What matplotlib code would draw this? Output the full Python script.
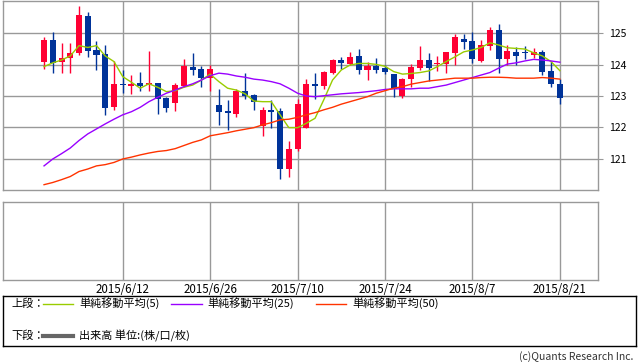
import matplotlib
matplotlib.use("Agg")
import matplotlib.pyplot as plt
import numpy as np
import pandas as pd

plt.rcParams['font.family'] = ['Noto Sans CJK JP', 'DejaVu Sans']

# daily bars, 2015/6/1 .. 2015/8/21
dates = pd.bdate_range('2015-06-01', '2015-08-21')
opens = [124.09, 124.78, 124.10, 124.23, 124.36, 125.57, 124.46, 124.33, 122.66, 123.39,
         123.32, 123.41, 123.34, 123.41, 122.95, 122.79, 123.33, 123.92, 123.86, 123.58,
         122.71, 122.52, 122.44, 123.16, 123.03, 122.03, 122.56, 122.52, 120.68, 121.30,
         121.99, 123.40, 123.33, 123.74, 124.14, 124.02, 124.27, 123.83, 123.96, 123.89,
         123.69, 123.01, 123.54, 123.90, 124.14, 124.02, 124.02, 124.37, 124.83, 124.75,
         124.11, 124.60, 125.10, 124.17, 124.39, 124.40, 124.32, 124.39, 123.79, 123.40]
highs = [124.90, 125.03, 124.69, 124.69, 125.86, 125.67, 124.75, 124.62, 124.11, 123.83,
         123.67, 123.77, 124.43, 123.43, 122.97, 123.41, 124.17, 124.37, 123.96, 123.98,
         123.21, 122.87, 123.21, 123.74, 123.05, 122.64, 122.87, 122.61, 121.58, 122.90,
         123.54, 123.74, 123.80, 124.17, 124.25, 124.41, 124.49, 124.09, 124.20, 123.98,
         123.70, 123.56, 124.01, 124.59, 124.38, 124.29, 124.39, 124.99, 124.99, 125.06,
         124.78, 125.20, 125.29, 124.62, 124.57, 124.60, 124.53, 124.46, 124.11, 123.54]
lows = [123.86, 123.72, 123.74, 123.74, 124.31, 124.25, 123.83, 122.40, 122.57, 123.09,
        123.06, 123.17, 123.17, 122.43, 122.50, 122.52, 123.30, 123.67, 123.30, 123.17,
        122.09, 121.90, 122.32, 122.90, 122.56, 121.71, 121.97, 120.36, 120.41, 121.23,
        121.97, 122.90, 123.21, 123.70, 123.86, 124.00, 123.70, 123.51, 123.73, 123.70,
        122.96, 122.95, 123.28, 123.83, 123.49, 123.80, 123.74, 123.98, 124.49, 124.06,
        124.09, 124.47, 123.74, 124.00, 124.00, 124.17, 124.20, 123.67, 123.28, 122.76]
closes = [124.78, 124.07, 124.23, 124.36, 125.60, 124.44, 124.30, 122.63, 123.38, 123.36,
          123.40, 123.32, 123.41, 122.90, 122.63, 123.35, 123.95, 123.83, 123.58, 123.86,
          122.50, 122.47, 123.16, 123.01, 122.80, 122.56, 122.50, 120.68, 121.32, 122.75,
          123.40, 123.33, 123.77, 124.14, 124.06, 124.25, 123.83, 123.95, 123.84, 123.78,
          123.21, 123.54, 123.93, 124.14, 123.90, 124.05, 124.39, 124.88, 124.72, 124.17,
          124.62, 125.10, 124.17, 124.43, 124.28, 124.38, 124.39, 123.77, 123.37, 122.95]

ma5 = [123.94, 124.06, 124.15, 124.28, 124.61, 124.55, 124.61, 124.28, 124.10, 123.62,
       123.44, 123.25, 123.39, 123.28, 123.14, 123.17, 123.28, 123.35, 123.51, 123.70,
       123.46, 123.25, 123.19, 123.07, 122.84, 122.82, 122.82, 122.40, 121.99, 121.99,
       122.13, 122.29, 122.88, 123.51, 123.83, 123.99, 124.04, 124.04, 124.01, 123.95,
       123.78, 123.70, 123.72, 123.75, 123.80, 123.94, 124.10, 124.25, 124.41, 124.47,
       124.55, 124.70, 124.63, 124.54, 124.52, 124.50, 124.38, 124.28, 124.10, 123.81]
ma25 = [120.77, 120.99, 121.16, 121.34, 121.58, 121.79, 121.95, 122.11, 122.26, 122.40,
        122.50, 122.64, 122.82, 122.96, 123.09, 123.19, 123.30, 123.39, 123.51, 123.65,
        123.73, 123.70, 123.64, 123.60, 123.54, 123.51, 123.46, 123.39, 123.25, 123.09,
        123.00, 122.98, 123.01, 123.04, 123.07, 123.09, 123.11, 123.14, 123.17, 123.21,
        123.23, 123.23, 123.23, 123.25, 123.25, 123.30, 123.35, 123.43, 123.51, 123.59,
        123.67, 123.75, 123.89, 124.02, 124.06, 124.12, 124.17, 124.15, 124.12, 124.08]
ma50 = [120.17, 120.24, 120.33, 120.43, 120.59, 120.67, 120.77, 120.81, 120.88, 120.99,
        121.05, 121.12, 121.18, 121.23, 121.26, 121.32, 121.42, 121.52, 121.60, 121.73,
        121.78, 121.83, 121.89, 121.94, 121.99, 122.08, 122.15, 122.24, 122.26, 122.32,
        122.40, 122.47, 122.56, 122.64, 122.74, 122.82, 122.90, 122.98, 123.09, 123.17,
        123.25, 123.30, 123.38, 123.43, 123.48, 123.51, 123.54, 123.57, 123.57, 123.57,
        123.59, 123.60, 123.60, 123.59, 123.57, 123.57, 123.57, 123.59, 123.57, 123.54]

tick_dates = ['2015-06-12', '2015-06-26', '2015-07-10', '2015-07-24', '2015-08-07', '2015-08-21']
tick_labels = ['2015/6/12', '2015/6/26', '2015/7/10', '2015/7/24', '2015/8/7', '2015/8/21']
y_ticks = [121, 122, 123, 124, 125]

RED = '#ff0033'
BLUE = '#003399'
GRID = '#999999'

x = np.arange(len(dates))
o = np.array(opens); c = np.array(closes)
up = c >= o
tick_pos = [list(dates).index(pd.Timestamp(d)) for d in tick_dates]

fig = plt.figure(figsize=(6.38, 3.62), dpi=100)
W, H = 638.0, 362.0

def px_axes(l, t, r, b):
    return fig.add_axes([l / W, 1 - b / H, (r - l) / W, (b - t) / H])

ax = px_axes(3.3, 0.5, 598.3, 190)
ax2 = px_axes(3.3, 201.7, 598.3, 280)

for a in (ax, ax2):
    for s in a.spines.values():
        s.set_color(GRID)
        s.set_linewidth(1)
    a.set_xlim(-4.66, 63.4)
    a.set_xticks(tick_pos)
    a.grid(True, color=GRID, linewidth=1)
    a.set_axisbelow(True)

# candles
colors = np.where(up, RED, BLUE)
ax.vlines(x, lows, highs, colors=colors, linewidth=1, zorder=2)
body_h = np.maximum(np.abs(c - o), 0.03)
ax.bar(x, body_h, bottom=np.minimum(o, c), width=0.69, color=colors, linewidth=0, zorder=3)

ax.plot(x, ma5, color='#99cc00', linewidth=1, zorder=4)
ax.plot(x, ma25, color='#9900ff', linewidth=1, zorder=4)
ax.plot(x, ma50, color='#ff3300', linewidth=1, zorder=4)

ax.set_ylim(120.0, 126.05)
ax.set_yticks(y_ticks)
ax.yaxis.tick_right()
ax.tick_params(axis='y', length=3.6, color=GRID, pad=4, labelsize=7.5)
ax.tick_params(axis='x', length=0, labelbottom=False)

ax2.set_ylim(0, 1)
ax2.set_yticks([])
ax2.grid(False, axis='y')
ax2.set_xticklabels(tick_labels)
ax2.tick_params(axis='x', length=0, pad=2, labelsize=8.3)

# legend box
lg = px_axes(3.3, 295.7, 636, 346)
lg.set_xlim(0, 632.7)
lg.set_ylim(50.3, 0)
lg.set_xticks([]); lg.set_yticks([])
for s in lg.spines.values():
    s.set_color('black')
    s.set_linewidth(1)
fs = 8
lg.text(8.4, 7.8, '上段：', fontsize=fs, va='center')
lg.plot([39.7, 69.7], [7.8, 7.8], color='#99cc00', linewidth=1)
lg.text(75.7, 7.8, '単純移動平均(5)', fontsize=fs, va='center')
lg.plot([167.7, 198.4], [7.8, 7.8], color='#9900ff', linewidth=1)
lg.text(203.7, 7.8, '単純移動平均(25)', fontsize=fs, va='center')
lg.plot([312.7, 342.7], [7.8, 7.8], color='#ff3300', linewidth=1)
lg.text(348.7, 7.8, '単純移動平均(50)', fontsize=fs, va='center')
lg.text(8.4, 40.3, '下段：', fontsize=fs, va='center')
lg.plot([39.7, 69.7], [40.3, 40.3], color='#666666', linewidth=3)
lg.text(75.7, 40.3, '出来高 単位:(株/口/枚)', fontsize=fs, va='center')

fig.text(633 / W, 1 - 357 / H, '(c)Quants Research Inc.', fontsize=7.5,
         ha='right', va='center', color='#333333')

fig.savefig('out.png', dpi=100)
